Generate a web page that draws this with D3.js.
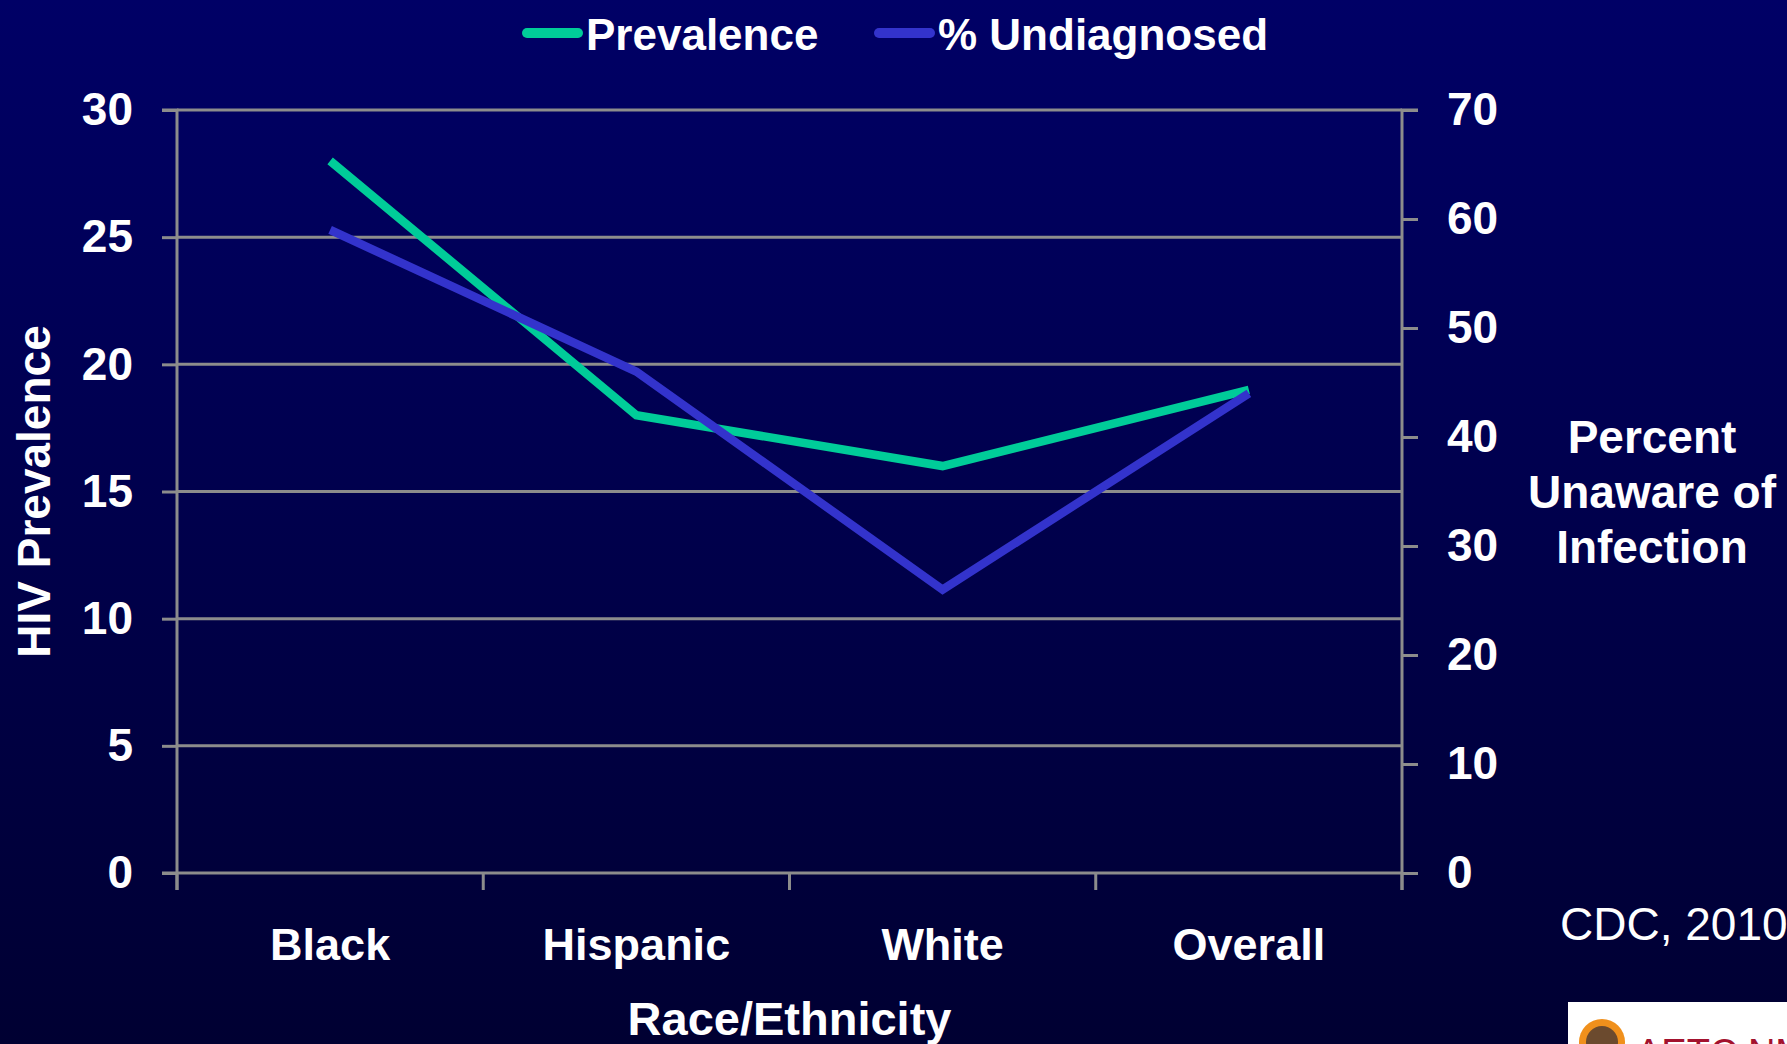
<!DOCTYPE html>
<html>
<head>
<meta charset="utf-8">
<script src="https://cdn.jsdelivr.net/npm/d3@7"></script>
<style>
  html, body { margin: 0; padding: 0; background: #000040; }
  svg { display: block; }
  text { font-family: "Liberation Sans", Arial, sans-serif; }
</style>
</head>
<body>
<script>
// Categories and series
const categories = ["Black", "Hispanic", "White", "Overall"];
const prevalence = [28, 18, 16, 19];          // left axis
const undiagnosed = [59, 46, 26, 44];         // right axis, percent
const leftTicks = [0, 5, 10, 15, 20, 25, 30];
const rightTicks = [0, 10, 20, 30, 40, 50, 60, 70];

const W = 1787, H = 1044;
const m = { left: 177, right: 1402, top: 110, bottom: 873 };

const svg = d3.select("body").append("svg")
  .attr("width", W).attr("height", H);

const defs = svg.append("defs");
const grad = defs.append("linearGradient")
  .attr("id", "bg").attr("x1", 0).attr("y1", 0).attr("x2", 0).attr("y2", 1);
grad.append("stop").attr("offset", "0%").attr("stop-color", "#000066");
grad.append("stop").attr("offset", "100%").attr("stop-color", "#000032");
svg.append("rect").attr("width", W).attr("height", H).attr("fill", "url(#bg)");

const x = d3.scaleBand().domain(categories).range([m.left, m.right]);
const yL = d3.scaleLinear().domain([0, 30]).range([m.bottom, m.top]);
const yR = d3.scaleLinear().domain([0, 70]).range([m.bottom, m.top]);

const grey = "#8c8c8c";

// Horizontal gridlines from the left axis ticks
svg.append("g").selectAll("line").data(leftTicks.filter(d => d > 0)).join("line")
  .attr("x1", m.left).attr("x2", m.right)
  .attr("y1", d => yL(d)).attr("y2", d => yL(d))
  .attr("stroke", grey).attr("stroke-width", 3);

// Left axis
const axL = svg.append("g").attr("transform", `translate(${m.left},0)`)
  .call(d3.axisLeft(yL).tickValues(leftTicks).tickSize(15).tickPadding(29));
// Right axis
const axR = svg.append("g").attr("transform", `translate(${m.right},0)`)
  .call(d3.axisRight(yR).tickValues(rightTicks).tickSize(16).tickPadding(29));
// Bottom axis: ticks on band boundaries
const bounds = categories.map(c => x(c)).concat([m.right]);
const axB = svg.append("g").attr("transform", `translate(0,${m.bottom})`);
axB.append("line").attr("x1", m.left - 15).attr("x2", m.right)
  .attr("stroke", grey).attr("stroke-width", 3);
axB.selectAll("line.t").data(bounds).join("line").attr("class", "t")
  .attr("x1", d => d).attr("x2", d => d).attr("y1", 0).attr("y2", 17)
  .attr("stroke", grey).attr("stroke-width", 3);
axB.selectAll("text").data(categories).join("text")
  .attr("x", d => x(d) + x.bandwidth() / 2).attr("y", 87)
  .attr("text-anchor", "middle").attr("fill", "#fff")
  .attr("font-size", 45).attr("font-weight", "bold")
  .text(d => d);

[axL, axR].forEach(g => {
  g.select(".domain").attr("stroke", grey).attr("stroke-width", 3);
  g.selectAll(".tick line").attr("stroke", grey).attr("stroke-width", 3);
  g.selectAll(".tick text").attr("fill", "#fff")
    .attr("font-size", 46).attr("font-weight", "bold")
    .attr("font-family", "'Liberation Sans', Arial, sans-serif");
});
axL.select(".domain").attr("d", `M-15,${m.top}H0V${m.bottom + 17}`);
axR.select(".domain").attr("d", `M16,${m.top}H0V${m.bottom + 17}`);

// Series lines
const lineL = d3.line().x((d, i) => x(categories[i]) + x.bandwidth() / 2).y(d => yL(d));
const lineR = d3.line().x((d, i) => x(categories[i]) + x.bandwidth() / 2).y(d => yR(d));
svg.append("path").datum(prevalence).attr("d", lineL)
  .attr("fill", "none").attr("stroke", "#00cc99").attr("stroke-width", 8.5)
  .attr("stroke-linejoin", "miter");
svg.append("path").datum(undiagnosed).attr("d", lineR)
  .attr("fill", "none").attr("stroke", "#3333cc").attr("stroke-width", 8.5)
  .attr("stroke-linejoin", "miter");

// Axis titles
svg.append("text")
  .attr("transform", `translate(50,${(m.top + m.bottom) / 2}) rotate(-90)`)
  .attr("text-anchor", "middle").attr("fill", "#fff")
  .attr("font-size", 46).attr("font-weight", "bold")
  .text("HIV Prevalence");
svg.append("text").attr("x", (m.left + m.right) / 2).attr("y", 1035)
  .attr("text-anchor", "middle").attr("fill", "#fff")
  .attr("font-size", 47).attr("font-weight", "bold")
  .text("Race/Ethnicity");
const rt = svg.append("text").attr("text-anchor", "middle").attr("fill", "#fff")
  .attr("font-size", 46).attr("font-weight", "bold");
["Percent", "Unaware of", "Infection"].forEach((t, i) => {
  rt.append("tspan").attr("x", 1652).attr("y", 453 + i * 55).text(t);
});

// Legend
const legend = [
  { name: "Prevalence", color: "#00cc99", x: 523 },
  { name: "% Undiagnosed", color: "#3333cc", x: 875 }
];
const lg = svg.append("g").selectAll("g").data(legend).join("g")
  .attr("transform", d => `translate(${d.x},33)`);
lg.append("line").attr("x1", 4).attr("x2", 55)
  .attr("stroke", d => d.color).attr("stroke-width", 10).attr("stroke-linecap", "round");
lg.append("text").attr("x", 63).attr("y", 17).attr("fill", "#fff")
  .attr("font-size", 44).attr("font-weight", "bold").text(d => d.name);

// Source note
svg.append("text").attr("x", 1560).attr("y", 940).attr("fill", "#fff")
  .attr("font-size", 46).text("CDC, 2010");

// Logo badge in the corner
const logo = svg.append("g");
logo.append("rect").attr("x", 1568).attr("y", 1002).attr("width", 230).attr("height", 60).attr("fill", "#fff");
logo.append("circle").attr("cx", 1602).attr("cy", 1042).attr("r", 23).attr("fill", "#f0901c");
logo.append("circle").attr("cx", 1602).attr("cy", 1042).attr("r", 16).attr("fill", "#6b4a2e");
logo.append("text").attr("x", 1636).attr("y", 1066).attr("fill", "#a3122e")
  .attr("font-family", "'Liberation Serif', serif").attr("font-size", 38).text("AETC NMC");
</script>
</body>
</html>
